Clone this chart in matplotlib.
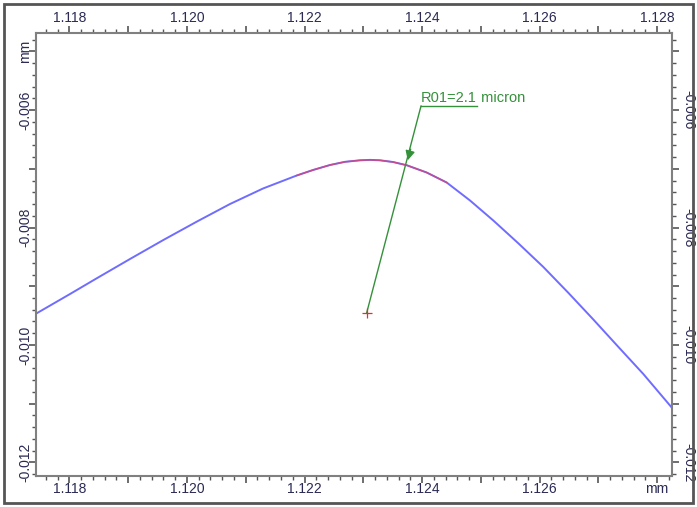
import matplotlib
matplotlib.use("Agg")
import matplotlib.pyplot as plt
from matplotlib.patches import Rectangle
from matplotlib.ticker import MultipleLocator, NullFormatter

plt.rcParams['font.family'] = ['Liberation Sans', 'DejaVu Sans']

# profile (blue)
profile_x = [1.117442, 1.118009, 1.118463, 1.119030, 1.119597, 1.120170, 1.120732,
             1.121294, 1.121867, 1.122145, 1.122434, 1.122689, 1.122945, 1.123115,
             1.123285, 1.123506, 1.123740, 1.124080, 1.124420, 1.124817, 1.125214,
             1.125634, 1.126065, 1.126485, 1.126916, 1.127336, 1.127767, 1.128250]
profile_y = [-0.009460, -0.009132, -0.008865, -0.008536, -0.008213, -0.007898, -0.007600,
             -0.007336, -0.007115, -0.007021, -0.006936, -0.006882, -0.006856, -0.006849,
             -0.006856, -0.006885, -0.006940, -0.007064, -0.007234, -0.007540, -0.007881,
             -0.008264, -0.008672, -0.009106, -0.009566, -0.010026, -0.010494, -0.011064]

# fitted arc (red)
arc_x = [1.121867, 1.122145, 1.122434, 1.122689, 1.122945, 1.123115, 1.123285,
         1.123506, 1.123740, 1.124080, 1.124420]
arc_y = [-0.007115, -0.007021, -0.006936, -0.006882, -0.006856, -0.006849, -0.006856,
         -0.006885, -0.006940, -0.007064, -0.007234]

center = (1.123059, -0.009450)
label_anchor = (1.123983, -0.005932)
arrow_tip = (1.123745, -0.006902)
label_main = "R01=2.1"
label_unit = " micron"

xticks = [1.118, 1.120, 1.122, 1.124, 1.126, 1.128]
xlabels_top = ['1.118', '1.120', '1.122', '1.124', '1.126', '1.128']
xlabels_bottom = ['1.118', '1.120', '1.122', '1.124', '1.126', 'mm']
yticks = [-0.006, -0.008, -0.010, -0.012]
ylabels = ['-0.006', '-0.008', '-0.010', '-0.012']

xlim = (1.11743, 1.128255)
ylim = (-0.01223, -0.004689)

green = '#34913a'
fig = plt.figure(figsize=(6.97, 5.07), dpi=100)
fig.patches.append(Rectangle((0.006, 0.007), 0.988, 0.986, transform=fig.transFigure,
                             fill=False, edgecolor='#555555', lw=2.0))

ax = fig.add_axes([36/697, 31/507, 636/697, 443/507])
ax.set_xlim(*xlim)
ax.set_ylim(*ylim)

ax.plot(profile_x, profile_y, color='#6f6cff', lw=1.4, zorder=2, solid_joinstyle='round')
ax.plot(arc_x, arc_y, color='#e0406a', lw=1.1, alpha=0.75, zorder=3, solid_joinstyle='round')

# leader line from center to label
ax.plot([center[0], label_anchor[0]], [center[1], label_anchor[1]], color=green, lw=1.0, zorder=4)
ax.annotate('', xy=arrow_tip, xytext=(arrow_tip[0] + (label_anchor[0]-center[0])*0.08,
                                      arrow_tip[1] + (label_anchor[1]-center[1])*0.08),
            arrowprops=dict(arrowstyle='-|>', color=green, lw=1.0, mutation_scale=14),
            zorder=5)
ax.plot([center[0]], [center[1]], marker='+', color='#e03030', ms=7, mew=0.9, zorder=6)

base_y = label_anchor[1] + 0.00006
t1 = ax.text(label_anchor[0], base_y, label_main, color=green,
             fontsize=10.5, ha='left', va='baseline', zorder=6)
fig.canvas.draw()
bb = t1.get_window_extent()
inv = ax.transData.inverted()
x_end = inv.transform((bb.x1, bb.y0))[0]
ax.plot([label_anchor[0], x_end], [label_anchor[1], label_anchor[1]], color=green, lw=1.0)
ax.text(x_end, base_y, label_unit, color=green,
        fontsize=10.5, ha='left', va='baseline', zorder=6)

tick_color = '#2a2a55'
for sp in ax.spines.values():
    sp.set_color('#808080')
    sp.set_linewidth(1.5)

ax.xaxis.set_major_locator(MultipleLocator(0.001))
ax.xaxis.set_minor_locator(MultipleLocator(0.0002))
ax.yaxis.set_major_locator(MultipleLocator(0.001))
ax.yaxis.set_minor_locator(MultipleLocator(0.0002))
ax.xaxis.set_major_formatter(NullFormatter())
ax.yaxis.set_major_formatter(NullFormatter())
ax.tick_params(which='both', direction='out', top=True, right=True, color='#555555')
ax.tick_params(which='major', length=5, width=1.2)
ax.tick_params(which='minor', length=3, width=1.0)

# labels
for xv, lb in zip(xticks, xlabels_bottom):
    ax.text(xv, -0.014, lb, transform=ax.get_xaxis_transform(), ha='center', va='top',
            fontsize=10, color=tick_color)
for xv, lb in zip(xticks, xlabels_top):
    ax.text(xv, 1.018, lb, transform=ax.get_xaxis_transform(), ha='center', va='bottom',
            fontsize=10, color=tick_color)
for yv, lb in zip(yticks, ylabels):
    ax.text(-0.006, yv, lb, transform=ax.get_yaxis_transform(), ha='right', va='center',
            rotation=90, fontsize=10, color=tick_color)
    ax.text(1.014, yv, lb, transform=ax.get_yaxis_transform(), ha='left', va='center',
            rotation=270, fontsize=10, color=tick_color)
ax.text(-0.006, -0.005, 'mm', transform=ax.get_yaxis_transform(), ha='right', va='center',
        rotation=90, fontsize=10, color=tick_color)

fig.savefig('out.png', dpi=100)
